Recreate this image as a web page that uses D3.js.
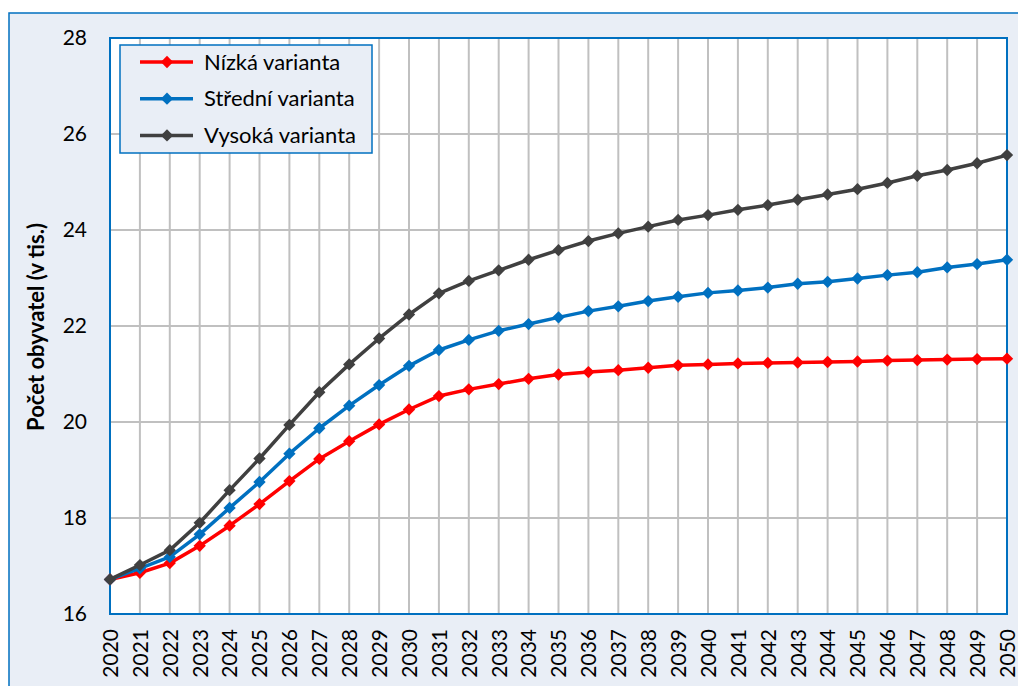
<!DOCTYPE html>
<html>
<head>
<meta charset="utf-8">
<script src="https://cdn.jsdelivr.net/npm/d3@7"></script>
<style>
  body { margin: 0; background: #fff; }
  text { font-family: Lato, "Open Sans", sans-serif; fill: #000; }
</style>
</head>
<body>
<svg id="chart" width="1018" height="686"></svg>
<script>
// roky a varianty projekce (v tis. obyvatel)
years = d3.range(2020, 2051);
nizka = [16.72, 16.86, 17.06, 17.42, 17.84, 18.29, 18.77, 19.23, 19.6, 19.95, 20.26,
         20.54, 20.68, 20.79, 20.9, 20.99, 21.04, 21.08, 21.13, 21.18, 21.2,
         21.22, 21.23, 21.24, 21.25, 21.26, 21.28, 21.29, 21.3, 21.31, 21.32];
stredni = [16.72, 16.95, 17.19, 17.66, 18.21, 18.75, 19.34, 19.87, 20.34, 20.77, 21.17,
           21.5, 21.71, 21.9, 22.04, 22.18, 22.31, 22.41, 22.52, 22.61, 22.69,
           22.74, 22.8, 22.88, 22.92, 22.99, 23.06, 23.12, 23.22, 23.29, 23.38];
vysoka = [16.72, 17.02, 17.33, 17.9, 18.58, 19.24, 19.94, 20.62, 21.2, 21.74, 22.24,
          22.68, 22.94, 23.16, 23.38, 23.58, 23.77, 23.93, 24.07, 24.21, 24.31,
          24.42, 24.52, 24.63, 24.74, 24.85, 24.98, 25.13, 25.25, 25.39, 25.56];
yTicks = [16, 18, 20, 22, 24, 26, 28];
seriesNames = ["Nízká varianta", "Střední varianta", "Vysoká varianta"];
seriesColors = ["#FF0000", "#0070C0", "#404040"];

let svg = d3.select("#chart");
let pLeft = 110, pTop = 38, pRight = 1007, pBottom = 614;

// pozadi grafu
svg.append("rect")
    .attr("x", 9).attr("y", 13)
    .attr("width", 1100).attr("height", 700)
    .attr("fill", "#E9EEF6")
    .attr("stroke", "#0070C0")
    .attr("stroke-width", 1.5);

svg.append("rect")
    .attr("x", pLeft).attr("y", pTop)
    .attr("width", pRight - pLeft).attr("height", pBottom - pTop)
    .attr("fill", "#fff");

let x = d3.scaleLinear().domain([2020, 2050]).range([pLeft, pRight]);
let y = d3.scaleLinear().domain([16, 28]).range([pBottom, pTop]);

// mrizka
svg.append("g")
    .selectAll("line")
    .data(years.slice(1, -1))
    .enter().append("line")
    .attr("x1", d => x(d)).attr("x2", d => x(d))
    .attr("y1", pTop).attr("y2", pBottom)
    .attr("stroke", "#C0C0C0").attr("stroke-width", 2);

svg.append("g")
    .selectAll("line")
    .data(yTicks.slice(1, -1))
    .enter().append("line")
    .attr("x1", pLeft).attr("x2", pRight)
    .attr("y1", d => y(d)).attr("y2", d => y(d))
    .attr("stroke", "#C0C0C0").attr("stroke-width", 2);

svg.append("rect")
    .attr("x", pLeft).attr("y", pTop)
    .attr("width", pRight - pLeft).attr("height", pBottom - pTop)
    .attr("fill", "none")
    .attr("stroke", "#0070C0")
    .attr("stroke-width", 2);

// osy
let yAxis = d3.axisLeft(y).tickValues(yTicks).tickSize(0).tickPadding(23);
svg.append("g")
    .attr("transform", "translate(" + pLeft + ",0)")
    .call(yAxis)
    .call(g => g.select(".domain").remove())
    .selectAll("text")
    .style("font-family", "Lato, sans-serif")
    .style("font-size", "21px")
    .attr("fill", "#000");

let xAxis = d3.axisBottom(x).tickValues(years).tickFormat(d3.format("d")).tickSize(0);
svg.append("g")
    .attr("transform", "translate(0," + pBottom + ")")
    .call(xAxis)
    .call(g => g.select(".domain").remove())
    .selectAll("text")
    .style("font-family", "Lato, sans-serif")
    .style("font-size", "21px")
    .attr("fill", "#000")
    .attr("text-anchor", "end")
    .attr("dy", "0.35em")
    .attr("transform", "rotate(-90)")
    .attr("x", -15)
    .attr("y", 0);

svg.append("text")
    .attr("transform", "translate(44,327) rotate(-90)")
    .attr("text-anchor", "middle")
    .style("font-size", "22px")
    .style("font-weight", "bold")
    .text("Počet obyvatel (v tis.)");

// krivky
let allSeries = [nizka, stredni, vysoka];
let line = d3.line().x((d, i) => x(years[i])).y(d => y(d));
let marker = d3.symbol().type(d3.symbolSquare).size(76);

allSeries.forEach(function (s, k) {
    svg.append("path")
        .datum(s)
        .attr("d", line)
        .attr("fill", "none")
        .attr("stroke", seriesColors[k])
        .attr("stroke-width", 3.5)
        .attr("stroke-linejoin", "round");
    svg.append("g")
        .selectAll("path")
        .data(s)
        .enter().append("path")
        .attr("d", marker)
        .attr("transform", (d, i) => "translate(" + x(years[i]) + "," + y(d) + ") rotate(45)")
        .attr("fill", seriesColors[k]);
});

// legenda
let legend = svg.append("g");
legend.append("rect")
    .attr("x", 120).attr("y", 45)
    .attr("width", 252).attr("height", 108)
    .attr("fill", "#E9EEF6")
    .attr("stroke", "#0070C0")
    .attr("stroke-width", 1.5);

seriesNames.forEach(function (name, k) {
    let ly = 62 + k * 36.7;
    legend.append("line")
        .attr("x1", 140).attr("x2", 193)
        .attr("y1", ly).attr("y2", ly)
        .attr("stroke", seriesColors[k])
        .attr("stroke-width", 3.5);
    legend.append("path")
        .attr("d", marker)
        .attr("transform", "translate(167," + ly + ") rotate(45)")
        .attr("fill", seriesColors[k]);
    legend.append("text")
        .attr("x", 204).attr("y", ly)
        .attr("dy", "0.35em")
        .style("font-size", "22px")
        .text(name);
});
</script>
</body>
</html>
